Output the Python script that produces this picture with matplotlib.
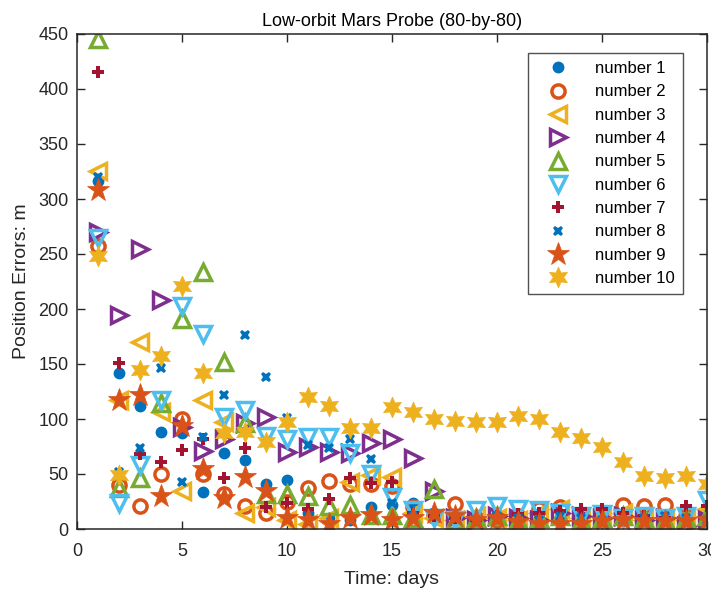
import numpy as np
import matplotlib
matplotlib.use("Agg")
import matplotlib.pyplot as plt

plt.rcParams['font.family'] = ['Liberation Sans', 'DejaVu Sans']

# time axis (days) and position errors (m) for the ten probes
days = list(range(1, 31))

err_1 = [316, 142, 112, 88, 87, 34, 69, 63, 41, 45, 15, 10, 8, 20, 22,
         24, 12, 8, 10, 14, 12, 10, 8, 12, 10, 8, 10, 12, 10, 8]
err_2 = [257, 40, 21, 50, 100, 50, 32, 21, 15, 25, 37, 44, 41, 41, 39,
         20, 12, 23, 10, 8, 12, 18, 20, 12, 15, 22, 21, 22, 12, 15]
err_3 = [325, 117, 170, 106, 35, 117, 97, 15, 20, 8, 5, 10, 43, 49, 47,
         15, 10, 8, 12, 10, 8, 15, 18, 10, 12, 15, 8, 10, 8, 18]
err_4 = [270, 195, 255, 208, 93, 71, 82, 96, 102, 70, 75, 70, 69, 78, 82,
         65, 35, 10, 8, 12, 10, 8, 15, 12, 10, 12, 8, 10, 3, 8]
err_5 = [445, 37, 46, 115, 191, 234, 152, 96, 32, 32, 30, 21, 22, 13, 13,
         10, 36, 8, 10, 12, 8, 10, 12, 8, 10, 12, 10, 8, 10, 12]
err_6 = [265, 24, 58, 117, 203, 177, 102, 108, 85, 82, 84, 84, 69, 50, 29,
         17, 10, 8, 17, 21, 18, 17, 15, 12, 14, 10, 12, 10, 12, 26]
err_7 = [415, 151, 68, 61, 72, 82, 46, 74, 20, 24, 18, 27, 46, 42, 43,
         15, 12, 10, 8, 12, 14, 15, 16, 18, 18, 15, 12, 10, 21, 21]
err_8 = [320, 52, 74, 146, 43, 84, 122, 176, 138, 101, 76, 74, 82, 64, 24,
         12, 15, 10, 8, 12, 10, 8, 12, 10, 8, 8, 10, 12, 10, 8]
err_9 = [308, 117, 122, 30, 94, 55, 28, 47, 35, 10, 8, 5, 10, 13, 8,
         10, 15, 12, 8, 10, 6, 5, 5, 5, 7, 8, 7, 7, 7, 8]
err_10 = [248, 49, 145, 157, 221, 142, 87, 88, 79, 97, 120, 112, 92, 92, 111,
          106, 100, 98, 97, 97, 103, 100, 88, 83, 75, 61, 48, 46, 48, 41]

labels = ["number %d" % i for i in range(1, 11)]

# MATLAB-like default colour order
blue = "#0072BD"
orange = "#D95319"
yellow = "#EDB120"
purple = "#7E2F8E"
green = "#77AC30"
cyan = "#4DBEEE"
red = "#A2142F"

series = [
    (err_1, dict(marker="o", color=blue, markersize=7.5, linestyle="none")),
    (err_2, dict(marker="o", color=orange, markerfacecolor="none", markersize=9.5,
                 markeredgewidth=2.5, linestyle="none")),
    (err_3, dict(marker="<", color=yellow, markerfacecolor="none", markersize=11,
                 markeredgewidth=2.5, linestyle="none")),
    (err_4, dict(marker=">", color=purple, markerfacecolor="none", markersize=11,
                 markeredgewidth=2.5, linestyle="none")),
    (err_5, dict(marker="^", color=green, markerfacecolor="none", markersize=11,
                 markeredgewidth=2.5, linestyle="none")),
    (err_6, dict(marker="v", color=cyan, markerfacecolor="none", markersize=11,
                 markeredgewidth=2.5, linestyle="none")),
    (err_7, dict(marker="P", color=red, markersize=8.5, markeredgewidth=0, linestyle="none")),
    (err_8, dict(marker="X", color=blue, markersize=7.5, markeredgewidth=0, linestyle="none")),
    (err_9, dict(marker="*", color=orange, markersize=17, markeredgewidth=0.5, linestyle="none")),
    (err_10, dict(marker=(6, 1, 0), color=yellow, markersize=15, markeredgewidth=0.5,
                  linestyle="none")),
]

fig = plt.figure(figsize=(7.11, 5.89), dpi=100)
ax = fig.add_axes([77 / 711, 60 / 589, 630 / 711, 495 / 589])

for vals, style in series:
    ax.plot(days, vals, **style)

ax.set_xlim(0, 30)
ax.set_ylim(0, 450)
ax.set_xticks([0, 5, 10, 15, 20, 25, 30])
ax.set_yticks(np.arange(0, 451, 50))

ax.tick_params(direction="in", length=6, width=1, top=True, right=True,
               labelsize=13, colors="#262626", pad=6)
ax.tick_params(axis="x", pad=10)
for sp in ax.spines.values():
    sp.set_color("#262626")
    sp.set_linewidth(1.1)

ax.set_title("Low-orbit Mars Probe (80-by-80)", fontsize=13, color="#000000", pad=6)
ax.set_xlabel("Time: days", fontsize=14, color="#262626", labelpad=8)
ax.set_ylabel("Position Errors: m", fontsize=14, color="#262626", labelpad=6)

leg = ax.legend(labels, loc="upper right", bbox_to_anchor=(0.962, 0.962),
                borderaxespad=0, fontsize=12, frameon=True, fancybox=False,
                edgecolor="#262626", labelspacing=0.5, handlelength=2.6,
                handletextpad=0.9, borderpad=0.5, numpoints=1)
leg.get_frame().set_linewidth(1.0)

fig.savefig("out.png", dpi=100)
